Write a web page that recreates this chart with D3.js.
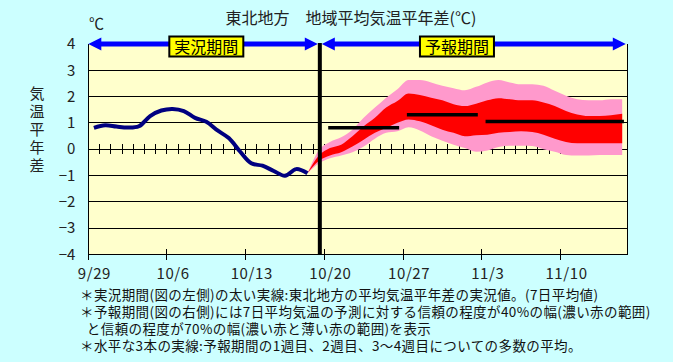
<!DOCTYPE html>
<html>
<head>
<meta charset="utf-8">
<script src="https://cdn.jsdelivr.net/npm/d3@7"></script>
<style>
  body { margin: 0; background: #ccffff; }
  svg { display: block; font-family: "Noto Sans CJK JP", sans-serif; }
</style>
</head>
<body>
<svg id="chart" width="673" height="362"></svg>
<script>
// days are counted from 9/29 (day 0) to 11/15 (day 47)
const nDays = 48;
const tickDays = [0, 7, 14, 21, 28, 35, 42];
const tickLabels = ["9/29", "10/6", "10/13", "10/20", "10/27", "11/3", "11/10"];
const yTicks = [-4, -3, -2, -1, 0, 1, 2, 3, 4];

// observed 7-day mean anomaly, day 0..19
const observed = [0.81, 0.91, 0.86, 0.82, 0.87, 1.26, 1.47, 1.53, 1.45, 1.19,
                  1.04, 0.71, 0.42, -0.09, -0.54, -0.63, -0.83, -1.01, -0.76, -0.92];

// forecast bands, day 19..47
const fcStart = 19;
const pinkUpper = [-0.92, -0.05, 0.27, 0.45, 0.74, 1.19, 1.58, 1.96, 2.28, 2.63,
                   2.63, 2.54, 2.41, 2.32, 2.24, 2.37, 2.54, 2.63, 2.54, 2.47,
                   2.47, 2.41, 2.22, 2.03, 1.90, 1.86, 1.86, 1.90, 1.90];
const redUpper = [-0.92, -0.25, 0.04, 0.17, 0.49, 0.87, 1.19, 1.58, 1.83, 2.12,
                  2.06, 1.96, 1.86, 1.71, 1.64, 1.73, 1.86, 1.94, 1.90, 1.86,
                  1.86, 1.77, 1.64, 1.45, 1.32, 1.26, 1.26, 1.29, 1.35];
const redLower = [-0.92, -0.45, -0.24, -0.12, 0.10, 0.36, 0.62, 0.81, 1.00, 1.13,
                  1.06, 0.91, 0.74, 0.62, 0.49, 0.53, 0.55, 0.62, 0.65, 0.68,
                  0.65, 0.55, 0.40, 0.27, 0.22, 0.22, 0.22, 0.22, 0.22];
const pinkLower = [-0.92, -0.55, -0.35, -0.24, -0.12, 0.10, 0.40, 0.62, 0.68, 0.83,
                   0.71, 0.49, 0.32, 0.17, 0.04, -0.10, -0.05, 0.08, 0.13, 0.13,
                   0.12, 0.00, -0.10, -0.22, -0.24, -0.24, -0.22, -0.22, -0.22];

// ensemble means: week 1, week 2, weeks 3-4
const weekStart = [21, 28, 35];
const weekEnd = [27, 34, 47];
const weekMean = [0.81, 1.31, 1.05];

const splitDay = 20.6;
const periodLabels = ["実況期間", "予報期間"];
const periodDays = [10.5, 32.8];

const notes = [
  "＊実況期間(図の左側)の太い実線:東北地方の平均気温平年差の実況値。(7日平均値)",
  "＊予報期間(図の右側)には7日平均気温の予測に対する信頼の程度が40%の幅(濃い赤の範囲)",
  "  と信頼の程度が70%の幅(濃い赤と薄い赤の範囲)を表示",
  "＊水平な3本の実線:予報期間の1週目、2週目、3～4週目についての多数の平均。"
];

const svg = d3.select("#chart");
const plotL = 88.3, plotR = 627.8, plotT = 44, plotB = 254.3;

const x = d3.scaleLinear().domain([0, nDays]).range([plotL, plotR]);
const y = d3.scaleLinear().domain([-4, 4]).range([plotB, plotT]);
const xc = i => x(i + 0.5);

svg.append("rect").attr("width", 673).attr("height", 362).attr("fill", "#ccffff");
svg.append("rect")
  .attr("x", plotL).attr("y", plotT)
  .attr("width", plotR - plotL).attr("height", plotB - plotT)
  .attr("fill", "#ffffcc");

// grid lines
svg.append("g").attr("shape-rendering", "crispEdges")
  .selectAll("line")
  .data(yTicks.filter(v => v > -4 && v < 4))
  .join("line")
  .attr("x1", plotL).attr("x2", plotR)
  .attr("y1", v => y(v)).attr("y2", v => y(v))
  .attr("stroke", "#000").attr("stroke-width", 1);

// daily ticks on the zero line
svg.append("g").attr("shape-rendering", "crispEdges")
  .selectAll("line")
  .data(d3.range(1, nDays))
  .join("line")
  .attr("x1", d => x(d)).attr("x2", d => x(d))
  .attr("y1", y(0) - 5).attr("y2", y(0) + 5)
  .attr("stroke", "#000").attr("stroke-width", 1);

// forecast bands
const fc = pinkUpper.map((v, k) => ({
  day: fcStart + k, pu: v, ru: redUpper[k], rl: redLower[k], pl: pinkLower[k]
}));

const pinkArea = d3.area()
  .x(d => xc(d.day)).y0(d => y(d.pl)).y1(d => y(d.pu))
  .curve(d3.curveMonotoneX);
const redArea = d3.area()
  .x(d => xc(d.day)).y0(d => y(d.rl)).y1(d => y(d.ru))
  .curve(d3.curveMonotoneX);

svg.append("path").datum(fc).attr("d", pinkArea).attr("fill", "#ff99cc");
svg.append("path").datum(fc).attr("d", redArea).attr("fill", "#ff0000");

// observed line
const obsLine = d3.line()
  .x((d, i) => xc(i)).y(d => y(d))
  .curve(d3.curveCatmullRom.alpha(0.5));
svg.append("path").datum(observed)
  .attr("d", obsLine)
  .attr("fill", "none")
  .attr("stroke", "#000080")
  .attr("stroke-width", 4)
  .attr("stroke-linejoin", "round");

// weekly means
svg.append("g").selectAll("line")
  .data(weekMean)
  .join("line")
  .attr("x1", (d, i) => xc(weekStart[i])).attr("x2", (d, i) => xc(weekEnd[i]))
  .attr("y1", d => y(d)).attr("y2", d => y(d))
  .attr("stroke", "#000").attr("stroke-width", 3.5)
  .attr("stroke-linecap", "square");

// frame
const frame = svg.append("g").attr("shape-rendering", "crispEdges")
  .attr("stroke", "#000").attr("stroke-width", 1);
frame.append("line")
  .attr("x1", plotL).attr("x2", plotL).attr("y1", plotT).attr("y2", plotB + 6);
frame.append("line")
  .attr("x1", plotR).attr("x2", plotR).attr("y1", plotT).attr("y2", plotB);
frame.append("line")
  .attr("x1", plotL).attr("x2", plotR).attr("y1", plotB).attr("y2", plotB);

// weekly ticks on the bottom axis
frame.selectAll(".wk")
  .data(tickDays.filter(d => d > 0))
  .join("line")
  .attr("class", "wk")
  .attr("x1", d => x(d)).attr("x2", d => x(d))
  .attr("y1", plotB - 5).attr("y2", plotB + 6);

// x labels
const xAxis = svg.append("g")
  .attr("transform", "translate(0," + plotB + ")")
  .call(d3.axisBottom(x)
    .tickValues(tickDays.map(d => d + 0.5))
    .tickFormat((d, i) => tickLabels[i])
    .tickSize(0).tickPadding(14));
xAxis.select(".domain").remove();
xAxis.selectAll("text")
  .attr("font-size", 15).attr("font-family", "Noto Sans CJK JP")
  .attr("letter-spacing", 0.6).attr("fill", "#222");

// y labels
const yAxis = svg.append("g")
  .attr("transform", "translate(" + plotL + ",0)")
  .call(d3.axisLeft(y)
    .tickValues(yTicks)
    .tickFormat(v => v < 0 ? "\u2212" + Math.abs(v) : String(v))
    .tickSize(0).tickPadding(13));
yAxis.select(".domain").remove();
yAxis.selectAll("text")
  .attr("font-size", 15).attr("font-family", "Noto Sans CJK JP").attr("fill", "#222");

// split between observed and forecast
svg.append("line")
  .attr("x1", x(splitDay)).attr("x2", x(splitDay))
  .attr("y1", plotT - 1).attr("y2", plotB)
  .attr("stroke", "#000").attr("stroke-width", 4);

// period arrows
function drawArrow(x1, x2) {
  const g = svg.append("g").attr("fill", "#0000ff");
  const ay = y(4);
  g.append("rect")
    .attr("x", x1 + 8).attr("y", ay - 2.5)
    .attr("width", x2 - x1 - 16).attr("height", 5);
  g.append("path").attr("d",
    "M" + x1 + "," + ay + "L" + (x1 + 13) + "," + (ay - 6.5) + "L" + (x1 + 13) + "," + (ay + 6.5) + "Z");
  g.append("path").attr("d",
    "M" + x2 + "," + ay + "L" + (x2 - 13) + "," + (ay - 6.5) + "L" + (x2 - 13) + "," + (ay + 6.5) + "Z");
}
drawArrow(plotL, x(splitDay) - 2);
drawArrow(x(splitDay) + 2, plotR - 2);

periodLabels.forEach((txt, i) => {
  const cx = x(periodDays[i]);
  svg.append("rect")
    .attr("x", cx - 37).attr("y", 36.5)
    .attr("width", 74).attr("height", 20)
    .attr("fill", "#ffff00").attr("stroke", "#000").attr("stroke-width", 2);
  svg.append("text")
    .attr("x", cx).attr("y", 52.5)
    .attr("text-anchor", "middle")
    .attr("font-size", 16).attr("fill", "#000")
    .text(txt);
});

// title and units
svg.append("text")
  .attr("x", 351).attr("y", 24)
  .attr("text-anchor", "middle")
  .attr("font-size", 16).attr("fill", "#222")
  .text("東北地方　地域平均気温平年差(℃)");
svg.append("text")
  .attr("x", 89).attr("y", 29)
  .attr("font-size", 15).attr("fill", "#222")
  .text("℃");

// vertical axis title
svg.append("text")
  .attr("x", 37).attr("y", 86)
  .attr("writing-mode", "vertical-rl")
  .attr("font-size", 15).attr("letter-spacing", 3)
  .attr("fill", "#222")
  .text("気温平年差");

// notes
svg.append("g").selectAll("text")
  .data(notes)
  .join("text")
  .attr("x", 80).attr("y", (d, i) => 300 + i * 17)
  .attr("font-size", 13.5).attr("letter-spacing", 0.4).attr("fill", "#111")
  .attr("xml:space", "preserve")
  .style("white-space", "pre")
  .text(d => d);
</script>
</body>
</html>
